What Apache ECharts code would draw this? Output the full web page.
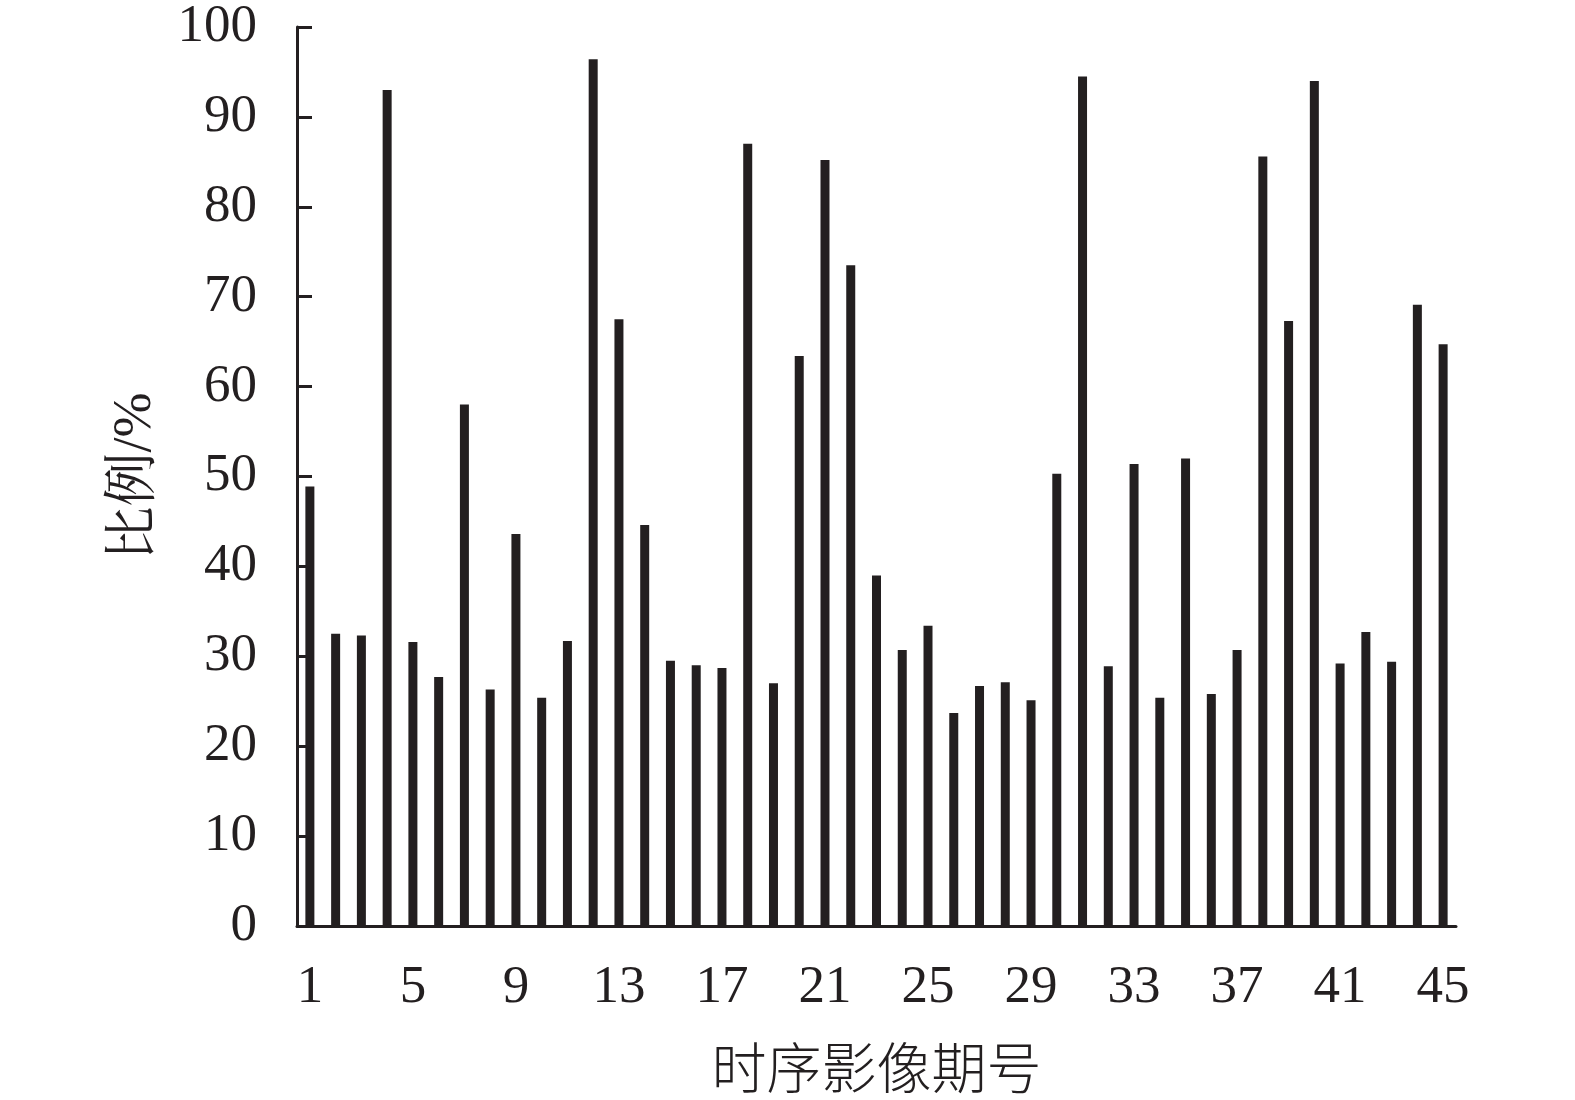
<!DOCTYPE html>
<html>
<head>
<meta charset="utf-8">
<script src="https://cdn.jsdelivr.net/npm/echarts@6/dist/echarts.min.js"></script>
<style>
html,body{margin:0;padding:0;background:#fff;}
#chart{width:1575px;height:1100px;}
</style>
</head>
<body>
<div id="chart"></div>
<script>
const categories = [];
for (let i = 1; i <= 45; i++) categories.push(String(i));
const values = [48.9, 32.5, 32.3, 93.0, 31.6, 27.7, 58.0, 26.3, 43.6, 25.4,
                31.7, 96.4, 67.5, 44.6, 29.5, 29.0, 28.7, 87.0, 27.0, 63.4,
                85.2, 73.5, 39.0, 30.7, 33.4, 23.7, 26.7, 27.1, 25.1, 50.3,
                94.5, 28.9, 51.4, 25.4, 52.0, 25.8, 30.7, 85.6, 67.3, 94.0,
                29.2, 32.7, 29.4, 69.1, 64.7];
const yTicks = [0, 10, 20, 30, 40, 50, 60, 70, 80, 90, 100];
const xName = '时序影像期号';
const yName = '比例/%';

const ink = '#231f20';
const fontFam = '"Liberation Serif", "Noto Serif CJK SC", "Noto Sans CJK SC", serif';

const chart = echarts.init(document.getElementById('chart'));
chart.setOption({
  animation: false,
  backgroundColor: '#fff',
  grid: { left: 297, right: 119, top: 27, bottom: 174, containLabel: false },
  xAxis: {
    type: 'category',
    data: categories,
    name: xName,
    nameLocation: 'middle',
    nameGap: 114,
    nameTextStyle: { color: ink, fontSize: 55, fontFamily: '"Noto Sans CJK SC", sans-serif', fontWeight: 300 },
    axisLine: { lineStyle: { color: ink, width: 3 } },
    axisTick: { show: false },
    axisLabel: { interval: 3, color: ink, fontSize: 53, fontFamily: fontFam, margin: 36 },
    splitLine: { show: false }
  },
  yAxis: {
    type: 'value',
    min: yTicks[0],
    max: yTicks[yTicks.length - 1],
    interval: 10,
    name: yName,
    nameLocation: 'middle',
    nameGap: 134,
    nameRotate: 90,
    nameTextStyle: { color: ink, fontSize: 54, fontFamily: fontFam },
    axisLine: { show: true, lineStyle: { color: ink, width: 3 } },
    axisTick: { show: true, inside: true, length: 15, lineStyle: { color: ink, width: 3 } },
    axisLabel: { color: ink, fontSize: 53, fontFamily: fontFam, margin: 40 },
    splitLine: { show: false }
  },
  series: [{
    type: 'bar',
    data: values,
    barWidth: 9,
    itemStyle: { color: ink }
  }]
});
</script>
</body>
</html>
